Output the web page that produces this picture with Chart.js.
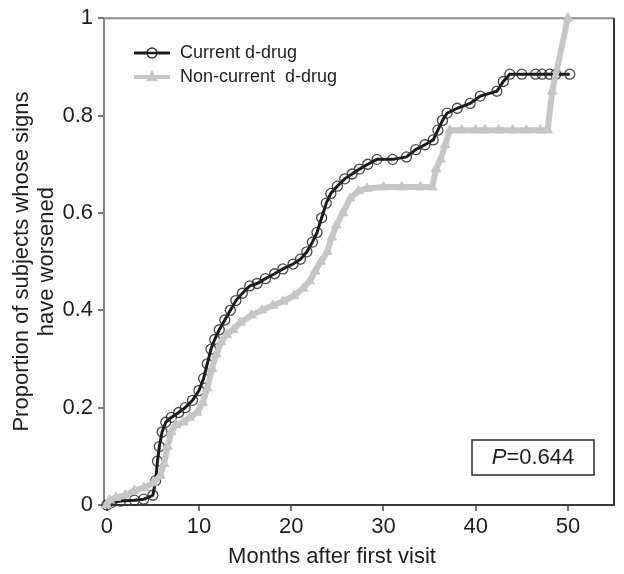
<!DOCTYPE html>
<html>
<head>
<meta charset="utf-8">
<script src="https://cdn.jsdelivr.net/npm/chart.js@4.4.0/dist/chart.umd.min.js"></script>
<style>
  html, body { margin: 0; padding: 0; background: #fff; }
  #wrap { width: 624px; height: 574px; }
</style>
</head>
<body>
<div id="wrap"><canvas id="km" width="624" height="574"></canvas></div>
<script>
// ─── DATA ─────────────────────────────────────────────────
const seriesNames = ['Current d-drug', 'Non-current  d-drug'];

const monthsCurrent = [0, 0.5, 1.5, 3, 4, 5, 5.3, 5.5, 5.7, 6.0, 6.4, 7, 7.8, 8.5, 9.3, 10, 10.5, 10.9, 11.3,
    11.7, 12.2, 12.8, 13.4, 14.0, 14.7, 15.5, 16.3, 17.2, 18.2, 19.1, 20.2, 21.0, 21.7, 22.3, 22.8, 23.3,
    23.8, 24.3, 25, 25.8, 26.6, 27.4, 28.3, 29.3, 31, 32.5, 33.5, 34.5, 35.4, 35.9, 36.4, 36.9, 38, 39.4,
    40.5, 42.3, 43, 43.7, 45, 46.5, 47.2, 48, 48.7, 50.2];
const propCurrent = [0, 0.005, 0.008, 0.01, 0.012, 0.02, 0.05, 0.09, 0.12, 0.15, 0.17, 0.18, 0.19, 0.2, 0.215,
    0.235, 0.26, 0.29, 0.32, 0.34, 0.36, 0.38, 0.40, 0.42, 0.435, 0.45, 0.455, 0.465, 0.475, 0.485, 0.495,
    0.505, 0.52, 0.54, 0.56, 0.59, 0.62, 0.64, 0.655, 0.67, 0.68, 0.69, 0.70, 0.71, 0.71, 0.715, 0.73, 0.74,
    0.75, 0.77, 0.79, 0.805, 0.815, 0.825, 0.84, 0.85, 0.87, 0.885, 0.885, 0.885, 0.885, 0.885, 0.885, 0.885];

const monthsNon = [0, 0.3, 1, 2, 3, 4, 5, 5.8, 6.2, 6.6, 7.0, 7.5, 8.3, 9, 9.8, 10.4, 10.9, 11.4, 11.9, 12.4,
    13.0, 13.7, 14.5, 15.7, 16.8, 18.0, 19.1, 20.3, 21.3, 22.0, 22.6, 23.2, 23.9, 24.4, 24.9, 25.6, 26.4,
    27.3, 28.2, 30, 32, 34, 35.3, 35.7, 36.2, 36.7, 37.2, 38.5, 40, 41, 42.5, 44, 45.5, 47, 47.8, 48.3, 50];
const propNon = [0, 0.01, 0.015, 0.02, 0.03, 0.035, 0.045, 0.06, 0.085, 0.12, 0.15, 0.165, 0.17, 0.18, 0.19,
    0.21, 0.24, 0.28, 0.31, 0.335, 0.35, 0.36, 0.375, 0.39, 0.40, 0.41, 0.418, 0.43, 0.445, 0.46, 0.48, 0.50,
    0.52, 0.55, 0.575, 0.60, 0.63, 0.645, 0.65, 0.653, 0.653, 0.653, 0.653, 0.69, 0.71, 0.74, 0.77, 0.77,
    0.77, 0.77, 0.77, 0.77, 0.77, 0.77, 0.77, 0.85, 1.0];

const xTicks = [0, 10, 20, 30, 40, 50];
const yTicks = [0, 0.2, 0.4, 0.6, 0.8, 1];
const yTickLabels = ['0', '0.2', '0.4', '0.6', '0.8', '1'];
const pLabel = ['P', '=0.644'];
const xTitle = 'Months after first visit';
const yTitle = ['Proportion of subjects whose signs', 'have worsened'];

// ─── STYLE ────────────────────────────────────────────────
const FONT = '"Liberation Sans", Arial, Helvetica, sans-serif';
const INK = '#1e1e1e';
const DARK = '#1a1a1a';
const GRAY = '#c6c6c6';

const toPoints = (xs, ys) => xs.map((x, i) => ({ x, y: ys[i] }));

// frame top/right, legend, p-value box, x title
const extras = {
    id: 'extras',
    beforeDatasetsDraw(chart) {
        const { ctx, chartArea: a } = chart;
        ctx.save();
        ctx.lineWidth = 2;
        ctx.strokeStyle = '#8c8c8c';
        ctx.beginPath(); ctx.moveTo(a.left, a.top); ctx.lineTo(a.right, a.top); ctx.stroke();
        ctx.strokeStyle = '#333';
        ctx.beginPath(); ctx.moveTo(a.right, a.top); ctx.lineTo(a.right, a.bottom); ctx.stroke();
        ctx.restore();
    },
    afterDraw(chart) {
        const { ctx } = chart;
        ctx.save();

        // legend
        const rows = [
            { y: 53, color: DARK, lw: 3, style: 'circle' },
            { y: 77, color: GRAY, lw: 4, style: 'triangle' },
        ];
        rows.forEach((r, i) => {
            ctx.strokeStyle = r.color;
            ctx.lineWidth = r.lw;
            ctx.beginPath(); ctx.moveTo(134, r.y); ctx.lineTo(170, r.y); ctx.stroke();
            if (r.style === 'circle') {
                ctx.lineWidth = 1.5;
                ctx.strokeStyle = '#333';
                ctx.fillStyle = '#fff';
                ctx.beginPath(); ctx.arc(152, r.y, 5, 0, Math.PI * 2); ctx.fill(); ctx.stroke();
                ctx.beginPath(); ctx.moveTo(147, r.y); ctx.lineTo(157, r.y);
                ctx.strokeStyle = DARK; ctx.lineWidth = 2.5; ctx.stroke();
            } else {
                ctx.fillStyle = GRAY;
                ctx.beginPath();
                ctx.moveTo(152, r.y - 7); ctx.lineTo(158, r.y + 4); ctx.lineTo(146, r.y + 4);
                ctx.closePath(); ctx.fill();
            }
            ctx.fillStyle = INK;
            ctx.font = '18px ' + FONT;
            ctx.textBaseline = 'middle';
            ctx.textAlign = 'left';
            ctx.fillText(seriesNames[i], 180, r.y);
        });

        // p-value box
        ctx.lineWidth = 1.5;
        ctx.strokeStyle = '#2a2a2a';
        ctx.strokeRect(472, 440, 122, 35);
        ctx.fillStyle = INK;
        ctx.textBaseline = 'middle';
        ctx.font = 'italic 22px ' + FONT;
        const wP = ctx.measureText(pLabel[0]).width;
        ctx.font = '22px ' + FONT;
        const wRest = ctx.measureText(pLabel[1]).width;
        const x0 = 533 - (wP + wRest) / 2;
        ctx.font = 'italic 22px ' + FONT;
        ctx.fillText(pLabel[0], x0, 458);
        ctx.font = '22px ' + FONT;
        ctx.fillText(pLabel[1], x0 + wP, 458);

        // x axis title
        ctx.textAlign = 'center';
        ctx.fillText(xTitle, 332, 557);
        ctx.restore();
    }
};

new Chart(document.getElementById('km'), {
    type: 'line',
    data: {
        datasets: [
            {
                label: seriesNames[1],
                data: toPoints(monthsNon, propNon),
                borderColor: GRAY,
                borderWidth: 6,
                pointStyle: 'triangle',
                pointRadius: 5.5,
                pointBackgroundColor: GRAY,
                pointBorderColor: GRAY,
                pointBorderWidth: 1,
                tension: 0,
                clip: false,
            },
            {
                label: seriesNames[0],
                data: toPoints(monthsCurrent, propCurrent),
                borderColor: DARK,
                borderWidth: 3,
                pointStyle: 'circle',
                pointRadius: 5,
                pointBackgroundColor: 'rgba(0,0,0,0)',
                pointBorderColor: 'rgba(40,40,40,0.85)',
                pointBorderWidth: 1.3,
                tension: 0,
                clip: false,
            },
        ]
    },
    options: {
        responsive: false,
        animation: false,
        devicePixelRatio: 1,
        layout: { padding: { top: 15, right: 10, left: 0, bottom: 0 } },
        plugins: { legend: { display: false }, tooltip: { enabled: false } },
        scales: {
            x: {
                type: 'linear',
                min: -0.3, max: 55,
                afterBuildTicks: s => { s.ticks = xTicks.map(v => ({ value: v })); },
                afterFit: s => { s.height = 69; },
                border: { display: true, color: '#3a3a3a', width: 2 },
                grid: { display: true, drawOnChartArea: false, drawTicks: true, tickLength: 6, color: '#777', lineWidth: 2 },
                ticks: { color: INK, font: { family: FONT, size: 22 }, padding: 3, maxRotation: 0 },
            },
            y: {
                type: 'linear',
                min: 0, max: 1,
                afterBuildTicks: s => { s.ticks = yTicks.map(v => ({ value: v })); },
                afterFit: s => { s.width = 104; },
                border: { display: true, color: '#858585', width: 2 },
                grid: { display: true, drawOnChartArea: false, drawTicks: true, tickLength: 6, color: '#777', lineWidth: 2 },
                ticks: {
                    color: INK, font: { family: FONT, size: 22 }, padding: 5,
                    callback: (v, i) => yTickLabels[i],
                },
                title: {
                    display: true,
                    text: yTitle,
                    color: INK,
                    font: { family: FONT, size: 22, lineHeight: 1.15 },
                    padding: { top: 9, bottom: 0 },
                },
            },
        },
    },
    plugins: [extras],
});
</script>
</body>
</html>
